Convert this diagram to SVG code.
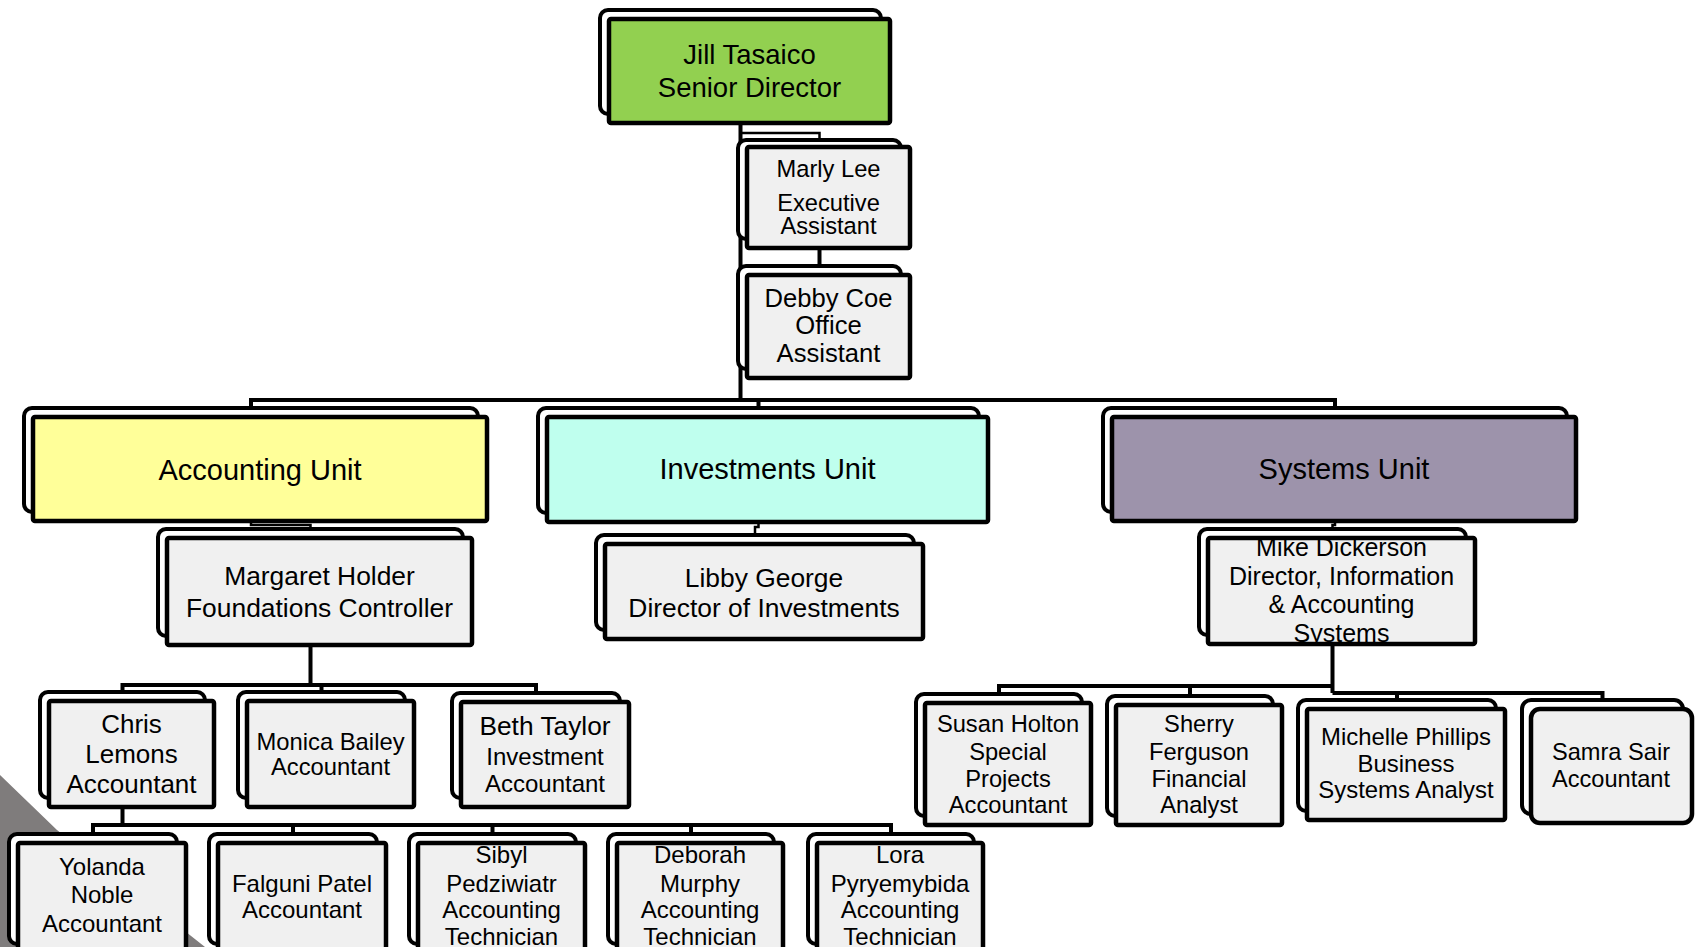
<svg xmlns="http://www.w3.org/2000/svg" width="1698" height="947" viewBox="0 0 1698 947">
<style>
.bk{fill:#fff;stroke:#000;stroke-width:4}
.fr{fill:#F0F0F0;stroke:#000;stroke-width:4.5}
.t{font-family:"Liberation Sans",Arial,sans-serif;fill:#000;text-anchor:middle}
.c{fill:none;stroke:#000;stroke-width:4}
.e{fill:none;stroke:#000;stroke-width:2.5}
</style>
<defs>
<clipPath id="cMike"><rect x="1210" y="540" width="263" height="102"/></clipPath>
<clipPath id="cSibyl"><rect x="420" y="845" width="163" height="110"/></clipPath>
<clipPath id="cDeb"><rect x="619" y="845" width="162" height="110"/></clipPath>
<clipPath id="cLora"><rect x="819" y="845" width="162" height="110"/></clipPath>
</defs>
<rect x="0" y="0" width="1698" height="947" fill="#fff"/>
<polygon points="0,775 57,830 205,947 0,947" fill="#7f7c7c"/>
<g id="connectors">
<path class="c" d="M740.5,113 V400"/>
<path class="e" d="M740.5,133 H819.5 V140"/>
<path class="c" d="M251,408 V400 H1335 V408 M758.5,400 V408"/>
<path class="c" d="M819.5,238 V266"/>
<path class="e" d="M251,512 V525 H310.5 V529"/>
<path class="e" d="M758.5,513 V527 H755 V535"/>
<path class="e" d="M1335,512 V525 H1332.5 V529"/>
<path class="c" d="M310.5,636 V685 M122.5,692 V685 H536 V692 M321.5,685 V692"/>
<path class="c" d="M122.5,798 V825 M93,834 V825 H891 V834 M293,825 V834 M492.5,825 V834 M691,825 V834"/>
<path class="c" d="M1332.5,635 V693 M999,694 V686 H1332.5 M1190,686 V696 M1332.5,693 H1602.5 V700 M1397,693 V700"/>
</g>
<g id="jill"><rect class="bk" x="600" y="10" width="281" height="104" rx="8"/><rect class="fr" x="609" y="19" width="281" height="104" rx="2" style="fill:#92D050"/><text class="t" font-size="27.5"><tspan x="749.5" y="64">Jill Tasaico</tspan><tspan x="749.5" y="97">Senior Director</tspan></text></g>
<g id="marly"><rect class="bk" x="738" y="140" width="163" height="99" rx="8"/><rect class="fr" x="747" y="147" width="163" height="101" rx="2"/><text class="t" font-size="23.7"><tspan x="828.5" y="177">Marly Lee</tspan><tspan x="828.5" y="211">Executive</tspan><tspan x="828.5" y="234">Assistant</tspan></text></g>
<g id="debby"><rect class="bk" x="738" y="266" width="163" height="103" rx="8"/><rect class="fr" x="747" y="275" width="163" height="103" rx="2"/><text class="t" font-size="25.6"><tspan x="828.5" y="307">Debby Coe</tspan><tspan x="828.5" y="334">Office</tspan><tspan x="828.5" y="362">Assistant</tspan></text></g>
<g id="accounting"><rect class="bk" x="24" y="408" width="454" height="104" rx="8"/><rect class="fr" x="33" y="417" width="454" height="104" rx="2" style="fill:#FFFF99"/><text class="t" font-size="29" x="260" y="480">Accounting Unit</text></g>
<g id="investments"><rect class="bk" x="538" y="408" width="441" height="105" rx="8"/><rect class="fr" x="547" y="417" width="441" height="105" rx="2" style="fill:#BFFFEE"/><text class="t" font-size="29" x="767.5" y="479">Investments Unit</text></g>
<g id="systems"><rect class="bk" x="1103" y="408" width="464" height="104" rx="8"/><rect class="fr" x="1112" y="417" width="464" height="104" rx="2" style="fill:#9D93AB"/><text class="t" font-size="29" x="1344" y="479">Systems Unit</text></g>
<g id="margaret"><rect class="bk" x="158" y="529" width="305" height="107" rx="8"/><rect class="fr" x="167" y="538" width="305" height="107" rx="2"/><text class="t" font-size="26.4"><tspan x="319.5" y="585">Margaret Holder</tspan><tspan x="319.5" y="617">Foundations Controller</tspan></text></g>
<g id="libby"><rect class="bk" x="596" y="535" width="318" height="95" rx="8"/><rect class="fr" x="605" y="544" width="318" height="95" rx="2"/><text class="t" font-size="26.4"><tspan x="764" y="587">Libby George</tspan><tspan x="764" y="617">Director of Investments</tspan></text></g>
<g id="mike"><rect class="bk" x="1199" y="529" width="267" height="106" rx="8"/><rect class="fr" x="1208" y="538" width="267" height="106" rx="2"/><text class="t" font-size="25" clip-path="url(#cMike)"><tspan x="1341.5" y="556">Mike Dickerson</tspan><tspan x="1341.5" y="585">Director, Information</tspan><tspan x="1341.5" y="613">&amp; Accounting</tspan><tspan x="1341.5" y="642">Systems</tspan></text></g>
<g id="chris"><rect class="bk" x="40" y="692" width="165" height="106" rx="8"/><rect class="fr" x="49" y="701" width="165" height="106" rx="2"/><text class="t" font-size="26"><tspan x="131.5" y="733">Chris</tspan><tspan x="131.5" y="763">Lemons</tspan><tspan x="131.5" y="793">Accountant</tspan></text></g>
<g id="monica"><rect class="bk" x="238" y="692" width="167" height="106" rx="8"/><rect class="fr" x="247" y="701" width="167" height="106" rx="2"/><text class="t" font-size="23.8"><tspan x="330.5" y="750">Monica Bailey</tspan><tspan x="330.5" y="775">Accountant</tspan></text></g>
<g id="beth"><rect class="bk" x="452" y="693" width="168" height="105" rx="8"/><rect class="fr" x="461" y="702" width="168" height="105" rx="2"/><text class="t" font-size="24"><tspan x="545" y="735" font-size="26.3">Beth Taylor</tspan><tspan x="545" y="765">Investment</tspan><tspan x="545" y="792">Accountant</tspan></text></g>
<g id="yolanda"><rect class="bk" x="9" y="834" width="168" height="110" rx="8"/><rect class="fr" x="18" y="843" width="168" height="112" rx="2"/><text class="t" font-size="24"><tspan x="102" y="875">Yolanda</tspan><tspan x="102" y="903">Noble</tspan><tspan x="102" y="932">Accountant</tspan></text></g>
<g id="falguni"><rect class="bk" x="209" y="834" width="168" height="110" rx="8"/><rect class="fr" x="218" y="843" width="168" height="112" rx="2"/><text class="t" font-size="24"><tspan x="302" y="892">Falguni Patel</tspan><tspan x="302" y="918">Accountant</tspan></text></g>
<g id="sibyl"><rect class="bk" x="409" y="834" width="167" height="110" rx="8"/><rect class="fr" x="418" y="843" width="167" height="112" rx="2"/><text class="t" font-size="24" clip-path="url(#cSibyl)"><tspan x="501.5" y="863">Sibyl</tspan><tspan x="501.5" y="892">Pedziwiatr</tspan><tspan x="501.5" y="918">Accounting</tspan><tspan x="501.5" y="945">Technician</tspan></text></g>
<g id="deborah"><rect class="bk" x="608" y="834" width="166" height="110" rx="8"/><rect class="fr" x="617" y="843" width="166" height="112" rx="2"/><text class="t" font-size="24" clip-path="url(#cDeb)"><tspan x="700" y="863">Deborah</tspan><tspan x="700" y="892">Murphy</tspan><tspan x="700" y="918">Accounting</tspan><tspan x="700" y="945">Technician</tspan></text></g>
<g id="lora"><rect class="bk" x="808" y="834" width="166" height="110" rx="8"/><rect class="fr" x="817" y="843" width="166" height="112" rx="2"/><text class="t" font-size="24" clip-path="url(#cLora)"><tspan x="900" y="863">Lora</tspan><tspan x="900" y="892">Pyryemybida</tspan><tspan x="900" y="918">Accounting</tspan><tspan x="900" y="945">Technician</tspan></text></g>
<g id="susan"><rect class="bk" x="916" y="694" width="166" height="122" rx="8"/><rect class="fr" x="925" y="703" width="166" height="122" rx="2"/><text class="t" font-size="23.7"><tspan x="1008" y="732">Susan Holton</tspan><tspan x="1008" y="760">Special</tspan><tspan x="1008" y="787">Projects</tspan><tspan x="1008" y="813">Accountant</tspan></text></g>
<g id="sherry"><rect class="bk" x="1107" y="696" width="166" height="120" rx="8"/><rect class="fr" x="1116" y="705" width="166" height="120" rx="2"/><text class="t" font-size="23.7"><tspan x="1199" y="732">Sherry</tspan><tspan x="1199" y="760">Ferguson</tspan><tspan x="1199" y="787">Financial</tspan><tspan x="1199" y="813">Analyst</tspan></text></g>
<g id="michelle"><rect class="bk" x="1298" y="700" width="198" height="111" rx="8"/><rect class="fr" x="1307" y="709" width="198" height="111" rx="2"/><text class="t" font-size="23.9"><tspan x="1406" y="745">Michelle Phillips</tspan><tspan x="1406" y="772">Business</tspan><tspan x="1406" y="798">Systems Analyst</tspan></text></g>
<g id="samra"><rect class="bk" x="1522" y="700" width="161" height="114" rx="9"/><rect class="fr" x="1531" y="709" width="161" height="114" rx="9"/><text class="t" font-size="23.6"><tspan x="1611" y="760">Samra Sair</tspan><tspan x="1611" y="787">Accountant</tspan></text></g>
</svg>
